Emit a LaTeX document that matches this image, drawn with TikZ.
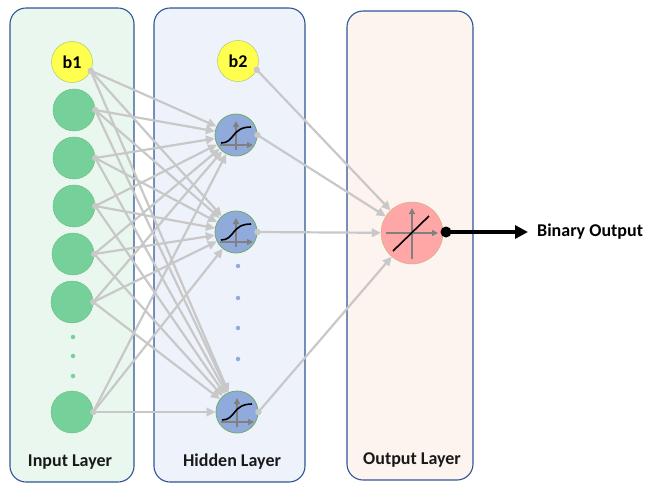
\documentclass[tikz,border=0pt]{standalone}
\usepackage{fontspec}
\setmainfont{Carlito}
\usepackage{tikz}
\definecolor{boxblue}{RGB}{47,85,151}
\definecolor{inbox}{RGB}{234,247,238}
\definecolor{hidbox}{RGB}{238,242,250}
\definecolor{outbox}{RGB}{253,243,239}
\definecolor{ingreen}{RGB}{117,208,153}
\definecolor{ingreenb}{RGB}{104,190,128}
\definecolor{biasy}{RGB}{255,255,80}
\definecolor{biasb}{RGB}{160,190,110}
\definecolor{hidblue}{RGB}{145,170,220}
\definecolor{hidb}{RGB}{112,173,100}
\definecolor{outred}{RGB}{255,166,166}
\definecolor{outb}{RGB}{200,180,120}
\definecolor{linkgray}{RGB}{200,200,200}
\definecolor{axisgray}{RGB}{128,128,128}
\newcommand{\sigmoid}[1]% node
{\begin{scope}[shift={(#1)}]
	\draw[axis] (-16,10) -- (17,10);
	\draw[axis] (0,15) -- (0,-14);
	\draw[curve] (-15,8) .. controls (-1,8) and (-5,-8) .. (15,-8);
\end{scope}
}
\newcommand{\linear}[1]% node
{\begin{scope}[shift={(#1)}]
	\draw[axis] (-26,0) -- (26,0);
	\draw[axis] (0,26) -- (0,-25);
	\draw[curve] (-19,18) -- (17,-17);
\end{scope}
}
\newcommand{\srcdot}[1]% anchor
{\fill[linkgray] (#1) circle (3.2pt);
}
\usetikzlibrary{arrows.meta}
\usetikzlibrary{positioning}
\tikzset{
	layer/.style={draw=boxblue, line width=1.1pt, rounded corners=16pt},
	innode/.style={circle, draw=ingreenb, fill=ingreen, minimum size=42pt, inner sep=0},
	bias/.style={circle, draw=biasb, fill=biasy, minimum size=41pt, inner sep=0, font=\bfseries\fontsize{18}{21}\selectfont},
	hidnode/.style={circle, draw=hidb, fill=hidblue, minimum size=42pt, inner sep=0, line width=0.8pt},
	outnode/.style={circle, draw=outb, fill=outred, minimum size=62pt, inner sep=0},
	link/.style={draw=linkgray, line width=2.2pt, -{Triangle[length=9pt,width=8.5pt]}},
	axis/.style={draw=axisgray, line width=1.4pt, -{Triangle[length=6pt,width=6pt]}},
	curve/.style={draw=black, line width=1.6pt},
	moredots/.style={circle, inner sep=0, minimum size=4.5pt},
	laytext/.style={anchor=base, font=\bfseries\fontsize{18}{21}\selectfont, text=black!90},
}

\begin{document}
\begin{tikzpicture}[x=1pt,y=-1pt]
	\useasboundingbox (0,0) rectangle (657,483);
	\draw[layer, fill=inbox] (10,8) rectangle (134,482);
	\draw[layer, fill=hidbox] (154,8) rectangle (305,482);
	\draw[layer, fill=outbox] (347,11) rectangle (473,480);
	\node[bias] (i0) at (72,62){b1};%bias 1
	\node[innode] (i1) at (74,110){};%1
	\node[innode] (i2) at (74,158){};%2
	\node[innode] (i3) at (74,206){};%3
	\node[innode] (i4) at (73,254){};%4
	\node[innode] (i5) at (72,302){};%5
	\node[moredots, fill=ingreen] (id1) at (73,337){};
	\node[moredots, fill=ingreen] (id2) at (73,356){};
	\node[moredots, fill=ingreen] (id3) at (73,376){};
	\node[innode] (i6) at (72,412){};%n
	\node[bias] (h0) at (238,61){b2};%bias 2
	\node[hidnode] (h1) at (236,135){};%1
	\node[hidnode] (h2) at (236,232){};%2
	\node[moredots, fill=hidblue] (hd1) at (238,266){};
	\node[moredots, fill=hidblue] (hd2) at (238,298){};
	\node[moredots, fill=hidblue] (hd3) at (238,328){};
	\node[moredots, fill=hidblue] (hd4) at (238,359){};
	\node[hidnode] (h3) at (237,412){};%m
	\node[outnode] (out) at (412,233){};
	\node[laytext] (inlabel) at (70,466){Input Layer};
	\node[laytext] (hidlabel) at (232,466){Hidden Layer};
	\node[laytext] (outlabel) at (412,464){Output Layer};
	\draw[link] (i0.-25) -- (h1);
	\draw[link] (i0.-25) -- (h2);
	\draw[link] (i0.-25) -- (h3);
	\draw[link] (i1.east) -- (h1);
	\draw[link] (i1.east) -- (h2);
	\draw[link] (i1.east) -- (h3);
	\draw[link] (i2.east) -- (h1);
	\draw[link] (i2.east) -- (h2);
	\draw[link] (i2.east) -- (h3);
	\draw[link] (i3.east) -- (h1);
	\draw[link] (i3.east) -- (h2);
	\draw[link] (i3.east) -- (h3);
	\draw[link] (i4.east) -- (h1);
	\draw[link] (i4.east) -- (h2);
	\draw[link] (i4.east) -- (h3);
	\draw[link] (i5.east) -- (h1);
	\draw[link] (i5.east) -- (h2);
	\draw[link] (i5.east) -- (h3);
	\draw[link] (i6.east) -- (h1);
	\draw[link] (i6.east) -- (h2);
	\draw[link] (i6.east) -- (h3);
	\draw[link] (h0.-25) -- (out);
	\draw[link] (h1.east) -- (out);
	\draw[link] (h2.east) -- (out);
	\draw[link] (h3.east) -- (out);
	\srcdot{i0.-25}
	\srcdot{i1.east}
	\srcdot{i2.east}
	\srcdot{i3.east}
	\srcdot{i4.east}
	\srcdot{i5.east}
	\srcdot{i6.east}
	\srcdot{h0.-25}
	\srcdot{h1.east}
	\srcdot{h2.east}
	\srcdot{h3.east}
	\sigmoid{h1}
	\sigmoid{h2}
	\sigmoid{h3}
	\linear{out}
	\node[circle, fill=black, minimum size=11pt, inner sep=0] (odot) at (446,232){};
	\coordinate (tip) at (528,232);
	\node[right=9pt of tip, inner sep=0, font=\bfseries\fontsize{18}{21}\selectfont] (bin){Binary Output};
	\draw[black, line width=4pt, -{Triangle[length=13pt,width=13pt]}] (odot.center) -- (tip);
\end{tikzpicture}
\end{document}
